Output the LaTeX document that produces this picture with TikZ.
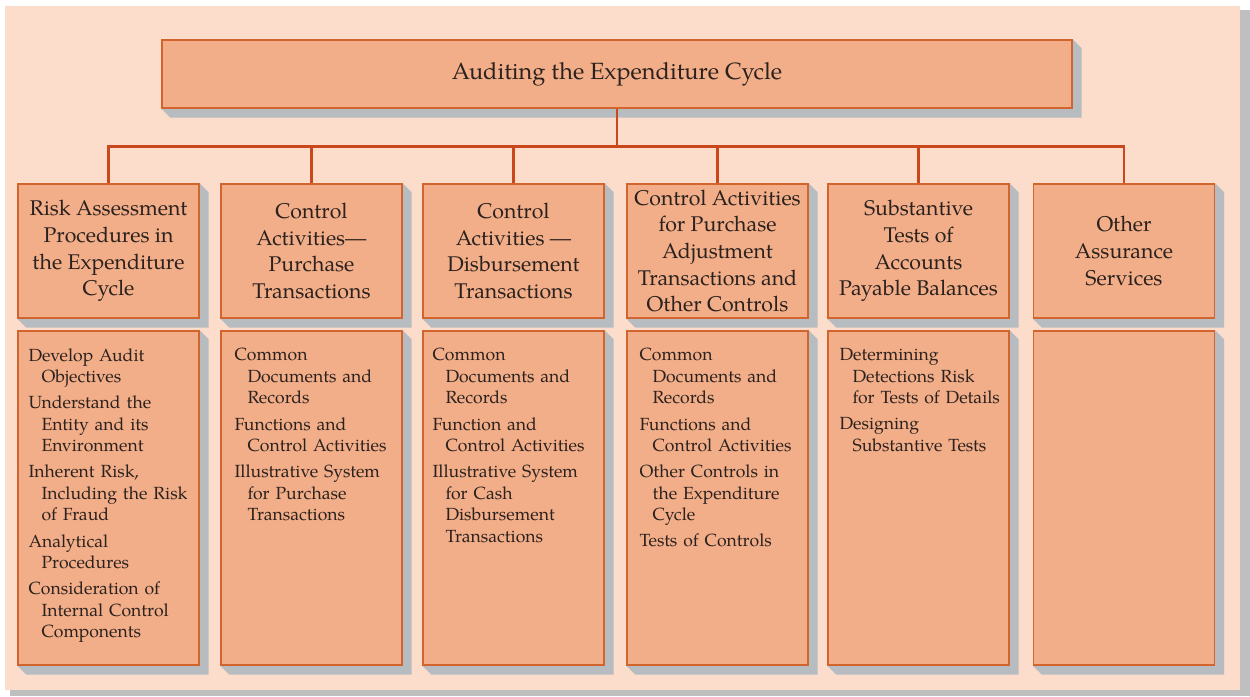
\documentclass[tikz,border=0pt]{standalone}
\usepackage{fontspec}
\setmainfont{TeX Gyre Pagella}
\usetikzlibrary{calc, backgrounds}

\definecolor{panel}{HTML}{FCDCCB}
\definecolor{boxfill}{HTML}{F2AE88}
\definecolor{boxline}{HTML}{D2642E}
\definecolor{wirecol}{HTML}{C9491C}
\definecolor{shadowgray}{HTML}{B7BCC1}
\definecolor{pshadow}{HTML}{BFBFBF}
\definecolor{ink}{HTML}{2B211E}

% one entry of a list, later lines hang in
\newcommand{\entry}[1]{\hangindent=13pt\hangafter=1 {\let\\\newline #1}\par}

\tikzset{
  box/.style={draw=boxline, line width=1.4pt, fill=boxfill, text=ink, inner sep=0pt},
  head/.style={box, minimum width=181pt, minimum height=134pt, align=center,
    font=\fontsize{21.3}{26.7}\selectfont},
  list/.style={box, minimum width=181pt, minimum height=334pt},
  listtext/.style={anchor=north west, inner sep=0pt, text=ink, text width=176pt,
    font=\fontsize{17.6}{21.5}\selectfont\raggedright\setlength{\parskip}{4.6pt}},
  wire/.style={draw=wirecol, line width=2.4pt}
}

\begin{document}
\begin{tikzpicture}[x=1pt, y=1pt]

  \useasboundingbox (0,0) rectangle (1250,696);

  % top
  \node[box, minimum width=910pt, minimum height=68pt, font=\fontsize{23.5}{28}\selectfont] (A) at (617,622) {Auditing the Expenditure Cycle};

  % headings
  \node[head] (B1) at (108.5,445) {Risk Assessment\\Procedures in\\the Expenditure\\Cycle};
  \node[head] (B2) at (311.5,445) {Control\\Activities---\\Purchase\\Transactions};
  \node[head] (B3) at (513.5,445) {Control\\Activities ---\\Disbursement\\Transactions};
  \node[head] (B4) at (717.5,445) {Control Activities\\for Purchase\\Adjustment\\Transactions and\\Other Controls};
  \node[head] (B5) at (918.5,445) {Substantive\\Tests of\\Accounts\\Payable Balances};
  \node[head] (B6) at (1124,445) {Other\\Assurance\\Services};

  % lists
  \node[list] (C1) at (108.5,198) {};
  \node[list] (C2) at (311.5,198) {};
  \node[list] (C3) at (513.5,198) {};
  \node[list] (C4) at (717.5,198) {};
  \node[list] (C5) at (918.5,198) {};
  \node[list] (C6) at (1124,198) {};

  \node[listtext] (D1) at ($(C1.north west)+(11,-18)$) {%
    \entry{Develop Audit\\Objectives}
    \entry{Understand the\\Entity and its\\Environment}
    \entry{Inherent Risk,\\Including the Risk\\of Fraud}
    \entry{Analytical\\Procedures}
    \entry{Consideration of\\Internal Control\\Components}};
  \node[listtext] (D2) at ($(C2.north west)+(14,-18)$) {%
    \entry{Common\\Documents and\\Records}
    \entry{Functions and\\Control Activities}
    \entry{Illustrative System\\for Purchase\\Transactions}};
  \node[listtext] (D3) at ($(C3.north west)+(10,-18)$) {%
    \entry{Common\\Documents and\\Records}
    \entry{Function and\\Control Activities}
    \entry{Illustrative System\\for Cash\\Disbursement\\Transactions}};
  \node[listtext] (D4) at ($(C4.north west)+(13,-18)$) {%
    \entry{Common\\Documents and\\Records}
    \entry{Functions and\\Control Activities}
    \entry{Other Controls in\\the Expenditure\\Cycle}
    \entry{Tests of Controls}};
  \node[listtext] (D5) at ($(C5.north west)+(12,-18)$) {%
    \entry{Determining\\Detections Risk\\for Tests of Details}
    \entry{Designing\\Substantive Tests}};

  % connectors
  \draw[wire] (A.south) -- ++(0,-38) coordinate (bus);
  \foreach \i in {1,...,6}
    \draw[wire] (B\i.north) |- (bus);

  \begin{scope}[on background layer]
    \fill[pshadow] (10,0) rectangle (1250,686);
    \fill[panel] (5,6) rectangle (1240,690);
    \foreach \n in {A,B1,B2,B3,B4,B5,B6,C1,C2,C3,C4,C5,C6}
      \fill[shadowgray] (\n.north east) -- ++(9,-9) |- ($(\n.south west)+(9,-9)$) -- (\n.south west) -- cycle;
  \end{scope}

\end{tikzpicture}
\end{document}
